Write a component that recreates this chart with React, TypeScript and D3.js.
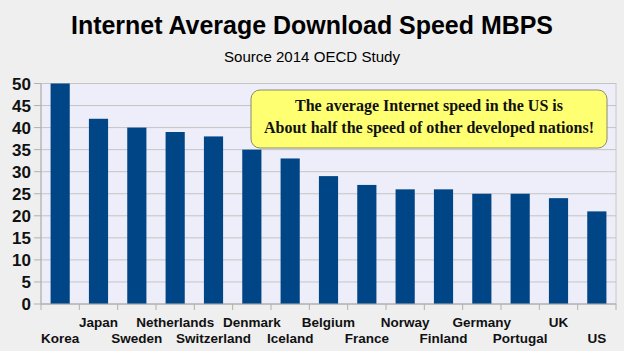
import * as d3 from 'd3'

const countries = [
  'Korea', 'Japan', 'Sweden', 'Netherlands', 'Switzerland', 'Denmark', 'Iceland',
  'Belgium', 'France', 'Norway', 'Finland', 'Germany', 'Portugal', 'UK', 'US',
]
const speeds = [50, 42, 40, 39, 38, 35, 33, 29, 27, 26, 26, 25, 25, 24, 21]
const yTicks = [0, 5, 10, 15, 20, 25, 30, 35, 40, 45, 50]
const title = 'Internet Average Download Speed MBPS'
const subtitle = 'Source 2014 OECD Study'
const note = ['The average Internet speed in the US is', 'About half the speed of other developed nations!']

export default function App() {
  const width = 624
  const height = 351
  const margin = { top: 83.5, right: 8, bottom: 47, left: 41 }
  const x = d3
    .scaleBand()
    .domain(countries)
    .range([margin.left, width - margin.right])
    .paddingInner(0.5)
    .paddingOuter(0.25)
  const band = d3.scaleBand().domain(countries).range([margin.left, width - margin.right])
  const y = d3
    .scaleLinear()
    .domain([0, 50])
    .range([height - margin.bottom, margin.top])
  const sans = 'Liberation Sans, Arial, sans-serif'
  return (
    <svg
      width={width}
      height={height}
      style={{ position: 'fixed', left: 0, top: 0, background: '#efefef' }}
    >
      <text
        x={width / 2}
        y={34}
        textAnchor="middle"
        fontFamily={sans}
        fontWeight="bold"
        fontSize={25.5}
        textLength={482}
        lengthAdjust="spacingAndGlyphs"
        fill="#000"
      >
        {title}
      </text>
      <text
        x={width / 2}
        y={62}
        textAnchor="middle"
        fontFamily={sans}
        fontSize={15}
        textLength={176}
        lengthAdjust="spacingAndGlyphs"
        fill="#000"
      >
        {subtitle}
      </text>
      <rect
        x={margin.left}
        y={margin.top}
        width={width - margin.right - margin.left}
        height={y(0) - y(50)}
        fill="#eeeefa"
        stroke="#c8c8c8"
      />
      {yTicks.map((t) => (
        <g key={t}>
          <line x1={margin.left} x2={width - margin.right} y1={y(t)} y2={y(t)} stroke="#c4c4c4" />
          <line x1={margin.left - 7} x2={margin.left} y1={y(t)} y2={y(t)} stroke="#b0b0b0" />
          <text
            x={31}
            y={y(t) + 6}
            textAnchor="end"
            fontFamily={sans}
            fontWeight="bold"
            fontSize={17}
            fill="#111"
          >
            {t}
          </text>
        </g>
      ))}
      {countries.map((c, i) => (
        <rect key={c} x={x(c)} y={y(speeds[i])} width={x.bandwidth()} height={y(0) - y(speeds[i])} fill="#004586" />
      ))}
      <line x1={margin.left} x2={margin.left} y1={margin.top} y2={y(0)} stroke="#b0b0b0" />
      <line x1={margin.left} x2={width - margin.right} y1={y(0)} y2={y(0)} stroke="#b0b0b0" />
      {countries.map((c) => (
        <line key={c} x1={band(c)!} x2={band(c)!} y1={y(0)} y2={y(0) + 6} stroke="#b0b0b0" />
      ))}
      <line x1={width - margin.right} x2={width - margin.right} y1={y(0)} y2={y(0) + 6} stroke="#b0b0b0" />
      {countries.map((c, i) => (
        <text
          key={c}
          x={band(c)! + band.bandwidth() / 2}
          y={i % 2 === 0 ? 343 : 327}
          textAnchor="middle"
          fontFamily={sans}
          fontWeight="bold"
          fontSize={13.5}
          fill="#111"
        >
          {c}
        </text>
      ))}
      <rect x={251} y={90} width={356} height={58} rx={9} fill="#ffff72" stroke="#8a8a6a" />
      {note.map((line, i) => (
        <text
          key={i}
          x={429}
          y={111 + i * 22}
          textAnchor="middle"
          fontFamily="Liberation Serif, Times New Roman, serif"
          fontWeight="bold"
          fontSize={16}
          fill="#111"
        >
          {line}
        </text>
      ))}
    </svg>
  )
}
